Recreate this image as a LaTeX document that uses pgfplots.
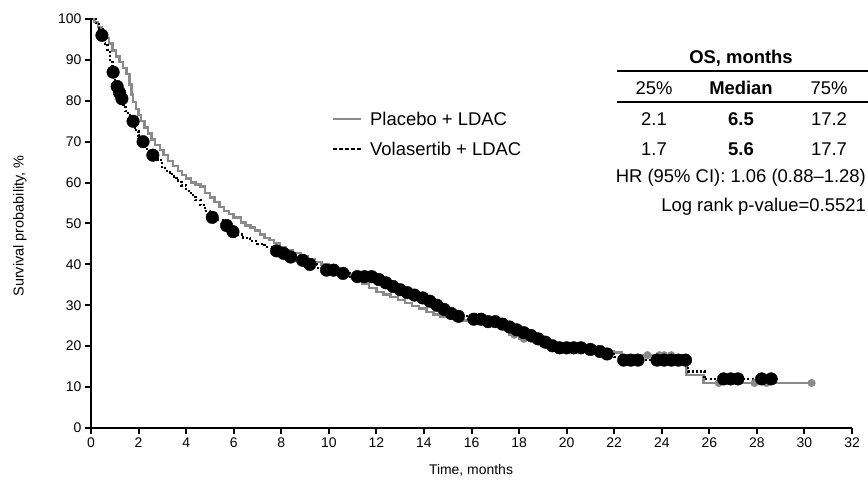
\documentclass[border=0pt]{standalone}
\usepackage{pgfplots}
\pgfplotsset{compat=1.18}
\usepackage{fontspec}
\setmainfont{Liberation Sans}
\definecolor{plgray}{HTML}{8A8A8A}
\begin{document}
\begin{tikzpicture}[x=1bp,y=1bp]
\useasboundingbox (0,0) rectangle (868,484);
\begin{axis}[
 at={(91bp,56bp)}, anchor=south west, scale only axis,
 width=761bp, height=409bp,
 xmin=0,xmax=32,ymin=0,ymax=100,
 axis x line*=bottom, axis y line*=left,
 axis line style={line width=2.5bp, black},
 xtick={0,2,...,32}, ytick={0,10,...,100},
 tick align=outside, major tick length=6bp,
 tick style={line width=2bp, black},
 ticklabel style={font=\fontsize{14}{15}\selectfont},
 /pgf/number format/assume math mode=true,
 clip=false,
]
% Placebo + LDAC
\addplot[const plot, color=plgray, line width=2.5bp] coordinates {
(0,100) (0.15,99.3) (0.3,98) (0.45,96.5) (0.6,95.4) (0.75,94) (0.9,92.3) (1.05,90.8)
(1.2,89.5) (1.35,88) (1.5,86.5) (1.62,84) (1.7,81.5) (1.77,79.7) (1.9,78) (2.0,76.5)
(2.1,75) (2.25,73.5) (2.4,72) (2.55,70.5) (2.7,69.2) (2.9,68) (3.05,66.8) (3.24,65.3)
(3.45,64) (3.65,62.8) (3.83,61.9) (4.0,61) (4.2,60) (4.4,59.5) (4.6,59) (4.8,57.5)
(5.0,56.3) (5.2,55.2) (5.4,54) (5.6,53) (5.8,52.3) (6.0,51.5) (6.3,50.3) (6.5,49.5)
(6.7,49) (6.9,48.3) (7.1,47.3) (7.3,46.5) (7.5,46) (7.7,45.2) (7.95,44.3) (8.2,43.5)
(8.5,42.8) (8.8,42) (9.1,41.2) (9.4,40.6) (9.7,40) (10.0,39.3) (10.3,38.5) (10.6,37.7)
(10.9,37) (11.2,36) (11.4,35.2) (11.7,34.2) (12.0,33.3) (12.3,32.6) (12.6,32) (12.9,31.3)
(13.2,30.5) (13.5,29.8) (13.8,29.2) (14.1,28.4) (14.4,27.8) (14.7,27.2) (15.1,26.7) (15.5,26.3)
(16.0,26) (16.5,25.8) (17.0,25.3) (17.3,24.8) (17.6,22.8) (18.0,21.8) (18.5,21.2) (19.0,20.5)
(19.4,20) (19.8,19.6) (20.5,19.4) (21.5,18.8) (22.0,18.4) (22.3,17.8) (25.05,13.0) (25.75,11.0)
(30.3,11.0)
};
% Volasertib + LDAC
\addplot[const plot, black, line width=2.3bp, dash pattern=on 2bp off 2.2bp] coordinates {
(0,100) (0.2,99) (0.35,97.5) (0.5,96) (0.6,94) (0.7,92) (0.8,89.5) (0.9,87) (1.0,85)
(1.05,83.5) (1.15,82) (1.25,80.5) (1.35,79) (1.45,77.5) (1.55,76.5) (1.7,75) (1.8,73.5)
(1.9,72.5) (2.0,71.5) (2.1,70) (2.2,68.7) (2.35,67.7) (2.5,66.7) (2.8,65.5) (3.0,63.5)
(3.2,62.5) (3.4,61.5) (3.6,60.5) (3.8,59.3) (4.0,58) (4.2,57) (4.4,55.7) (4.6,54.5)
(4.8,53) (5.0,51.5) (5.3,50.8) (5.6,49.5) (5.85,48) (6.1,47.3) (6.4,46.5) (6.7,45.7)
(7.0,45) (7.3,44.3) (7.6,43.3) (7.9,42.7) (8.3,41.8) (8.7,41) (9.1,40) (9.5,39.2)
(9.8,38.6) (10.4,37.8) (10.9,37) (11.9,36.3) (12.3,35.5) (12.6,34.6) (12.9,33.8) (13.2,33.1)
(13.5,32.5) (13.9,31.8) (14.2,31) (14.5,30) (14.8,29) (15.1,28) (15.4,27.3) (15.8,26.6)
(16.6,26) (17.1,25.4) (17.5,24.7) (17.8,24) (18.1,23.3) (18.4,22.6) (18.7,21.8) (19.0,21)
(19.3,20.1) (19.6,19.6) (20.9,19.2) (21.3,18.7) (21.6,18.1) (22.0,17.4) (22.2,16.6) (25.1,13.8)
(25.8,12.0) (28.9,12.0)
};
% Placebo censored
\addplot[only marks, mark=*, mark size=3.8bp, plgray, mark options={draw=plgray, fill=plgray}] coordinates {
(17.8,22.8) (18.2,21.8) (21.1,19.4) (23.4,17.8) (23.9,17.8) (24.1,17.8) (24.4,17.8)
(26.4,11) (27.9,11) (28.4,11) (30.3,11)
};
% Volasertib censored
\addplot[only marks, mark=*, mark size=6.3bp, black] coordinates {
(0.46,96) (0.93,87) (1.1,83.5) (1.2,82) (1.3,80.5) (1.77,75) (2.19,70) (2.6,66.7)
(5.1,51.5) (5.7,49.5) (5.97,48) (7.8,43.3) (8.1,42.7) (8.4,41.8) (8.9,41) (9.2,40)
(9.9,38.6) (10.2,38.6) (10.6,37.8) (11.2,37) (11.5,37) (11.8,37) (12.1,36.3) (12.4,35.5)
(12.7,34.6) (13.0,33.8) (13.3,33.1) (13.6,32.5) (13.95,31.8) (14.25,31) (14.55,30) (14.85,29)
(15.15,28) (15.45,27.3) (16.1,26.6) (16.4,26.6) (16.7,26) (17.0,26) (17.3,25.4) (17.6,24.7)
(17.9,24) (18.2,23.3) (18.5,22.6) (18.8,21.8) (19.1,21) (19.4,20.1) (19.7,19.6) (20.0,19.6)
(20.3,19.6) (20.6,19.6) (21.0,19.2) (21.4,18.7) (21.7,18.1) (22.4,16.6) (22.7,16.6) (23.0,16.6)
(23.8,16.6) (24.1,16.6) (24.4,16.6) (24.7,16.6) (25.0,16.6) (26.6,12) (26.9,12) (27.2,12)
(28.2,12) (28.6,12)
};
\end{axis}
% axis labels
\node[font=\fontsize{14}{15}\selectfont] at (471,14) {Time, months};
\node[font=\fontsize{14.5}{15}\selectfont, rotate=90] at (20,258) {Survival probability, \%};
% legend
\begin{scope}[font=\fontsize{18.5}{20}\selectfont]
\draw[plgray, line width=2.2bp] (333,365) -- (361,365);
\node[anchor=west, inner sep=0pt] at (370,365) {Placebo + LDAC};
\draw[black, line width=2.2bp, dash pattern=on 4bp off 2bp] (333,335) -- (361,335);
\node[anchor=west, inner sep=0pt] at (370,335) {Volasertib + LDAC};
% table
\node[font=\fontsize{18.5}{20}\selectfont\bfseries] at (741,426) {OS, months};
\draw[line width=2.5bp] (617,413) -- (868,413);
\node at (654,396) {25\%};
\node[font=\fontsize{18.5}{20}\selectfont\bfseries] at (741,396) {Median};
\node at (829,396) {75\%};
\draw[line width=2.5bp] (617,382) -- (868,382);
\node at (654,365) {2.1};
\node[font=\fontsize{18.5}{20}\selectfont\bfseries] at (741,365) {6.5};
\node at (829,365) {17.2};
\node at (654,335) {1.7};
\node[font=\fontsize{18.5}{20}\selectfont\bfseries] at (741,335) {5.6};
\node at (829,335) {17.7};
\node[anchor=east, inner sep=0pt] at (866,306) {HR (95\% CI): 1.06 (0.88--1.28)};
\node[anchor=east, inner sep=0pt] at (866,277) {Log rank p-value=0.5521};
\end{scope}
\end{tikzpicture}
\end{document}
